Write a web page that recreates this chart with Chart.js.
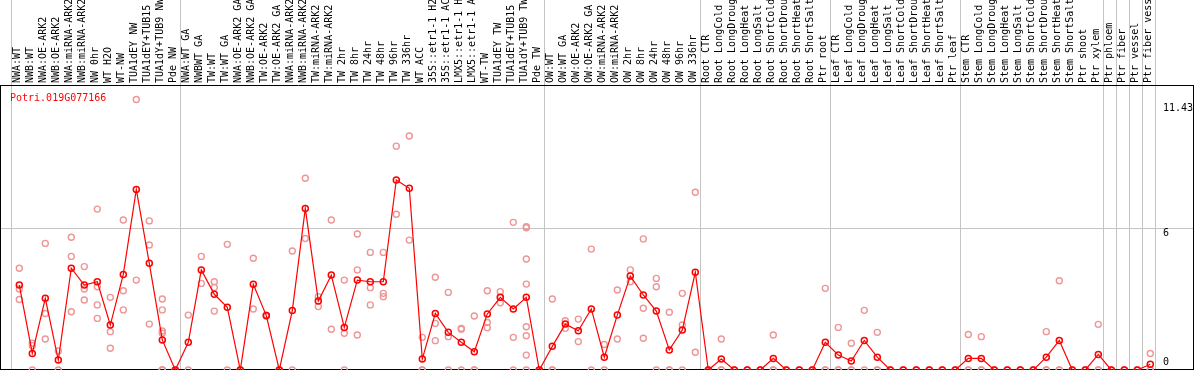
<!DOCTYPE html>
<html><head><meta charset="utf-8">
<script src="https://cdn.jsdelivr.net/npm/chart.js@4.4.1/dist/chart.umd.min.js"></script>
<style>html,body{margin:0;padding:0;background:#fff;overflow:hidden}canvas{display:block}</style>
</head><body>
<canvas id="c" width="1194" height="370"></canvas>
<script>
const geneId = "Potri.019G077166";

const categories = [
  "NWA:WT","NWB:WT","NWA:OE-ARK2","NWB:OE-ARK2","NWA:miRNA-ARK2","NWB:miRNA-ARK2","NW 0hr","WT H2O","WT-NW","TUA1dEY NW","TUA1dEY+TUB15","TUA1dY+TUB9 NW","Pde NW",
  "NWA:WT GA","NWBWT GA","TW:WT","TW:WT GA","NWA:OE-ARK2 GA","NWB:OE-ARK2 GA","TW:OE-ARK2","TW:OE-ARK2 GA","NWA:miRNA-ARK2","NWB:miRNA-ARK2","TW:miRNA-ARK2","TW:miRNA-ARK2","TW 2hr","TW 8hr","TW 24hr","TW 48hr","TW 96hr","TW 336hr","WT ACC","35S::etr1-1 H2","35S::etr1-1 AC","LMX5::etr1-1 H","LMX5::etr1-1 A","WT-TW","TUA1dEY TW","TUA1dEY+TUB15","TUA1dY+TUB9 TW","Pde TW",
  "OW:WT","OW:WT GA","OW:OE-ARK2","OW:OE-ARK2 GA","OW:miRNA-ARK2","OW:miRNA-ARK2","OW 2hr","OW 8hr","OW 24hr","OW 48hr","OW 96hr","OW 336hr",
  "Root CTR","Root LongCold","Root LongDroug","Root LongHeat","Root LongSalt","Root ShortCold","Root ShortDrou","Root ShortHeat","Root ShortSalt","Ptr root",
  "Leaf CTR","Leaf LongCold","Leaf LongDroug","Leaf LongHeat","Leaf LongSalt","Leaf ShortCold","Leaf ShortDrou","Leaf ShortHeat","Leaf ShortSalt","Ptr leaf",
  "Stem CTR","Stem LongCold","Stem LongDroug","Stem LongHeat","Stem LongSalt","Stem ShortCold","Stem ShortDrou","Stem ShortHeat","Stem ShortSalt","Ptr shoot","Ptr xylem","Ptr phloem","Ptr fiber","Ptr vessel","Ptr fiber vess"
];

const means = [
  3.59,0.70,3.03,0.42,4.30,3.59,3.73,1.90,4.04,7.63,4.51,1.27,0,
  1.17,4.23,3.20,2.65,0,3.62,2.30,0,2.51,6.83,2.92,4.01,1.80,3.80,3.73,3.73,8.03,7.68,0.46,2.39,1.59,1.17,0.77,2.37,3.07,2.58,3.07,0,
  1.00,1.94,1.66,2.58,0.54,2.32,3.97,3.17,2.49,0.85,1.69,4.13,
  0,0.46,0,0,0,0.49,0,0,0,1.17,
  0.63,0.38,1.25,0.54,0,0,0,0,0,0,
  0.49,0.49,0,0,0,0,0.54,1.25,0,0,0.66,0,0,0,0.24
];

const replicates = [
  [4.30,3.42,2.98],[1.13,1.03,0],[5.35,2.39,1.31],[0.80,0],[5.61,4.80,2.46],[4.37,3.42,2.96],[6.80,3.52,2.75,2.18],[3.07,1.62,0.92],[6.34,3.35,2.54],[11.43,3.80],[6.30,5.28,1.94],[3.00,2.54,1.65,1.55,0,0,0],[0,0],
  [2.32,0],[4.80,3.66],[3.73,3.49,2.49],[5.31,0],[0,0],[4.72,2.58],[2.32,2.27],[0,0],[5.03,0],[8.10,5.56],[3.10,2.68],[6.34,1.72],[3.80,1.55,0],[5.75,4.23,1.48],[4.97,3.48,2.75],[4.97,3.24,3.10],[9.46,6.58],[9.89,5.49],[1.38,0,0],[3.92,1.97,1.24],[3.28,1.41,0],[1.76,1.72,0],[2.28,0,0],[3.35,2.01,1.79],[3.31,3.07,2.84],[6.24,1.38,0],[6.06,6.01,4.69,3.63,1.83,1.45,0.63,0],[0,0],
  [3.00,0,0],[2.08,1.76],[2.15,1.20],[5.11,0],[1.08,0],[3.38,1.31],[4.23,3.73],[5.54,2.61,1.34],[3.87,3.52,0],[2.44,0,0],[3.24,1.90,0],[7.51,0.75],
  [0,0],[1.31,0,0],[0,0],[0,0],[0,0],[1.48,0,0],[0,0],[0,0],[0,0],[3.45,0,0],
  [1.80,0,0],[1.13,0,0],[2.52,0],[1.59,0,0],[0,0],[0,0],[0,0],[0,0],[0,0],[0,0],
  [1.50,0,0],[1.41,0,0],[0,0],[0,0],[0,0],[0,0],[1.62,0,0],[3.77,0,0],[0,0],[0,0],[1.93,0,0],[0,0],[0,0],[0,0],[0.70,0,0]
];

// last category index (1-based) of each group; separators drawn after these
const groupEnds = [0, 13, 41, 53, 63, 73, 84, 85, 86, 87, 88];
const yTickValues = [0, 6, 11.43];

// ---- layout / style constants ----
const AREA_LEFT = 1, AREA_RIGHT = 1193, FIRST_PX = 19.3, STEP = 13;
const xMin = 1 - (FIRST_PX - AREA_LEFT) / STEP;
const xMax = xMin + (AREA_RIGHT - AREA_LEFT) / STEP;
const yMax = Math.max(...yTickValues) * 1.05;
const FONT = '10px "DejaVu Sans Mono", "Liberation Mono", monospace';
const RED = '#ff0000', PALE = 'rgb(238,150,150)', GRID = '#c4c4c4';

const meanPoints = means.map((v, i) => ({x: i + 1, y: v}));
const repPoints = [];
replicates.forEach((arr, i) => arr.forEach(v => repPoints.push({x: i + 1, y: v})));

const decor = {
  id: 'decor',
  beforeDatasetsDraw(chart) {
    const {ctx, chartArea: a, scales: {x}} = chart;
    ctx.save();
    ctx.lineWidth = 1;
    ctx.strokeStyle = GRID;
    groupEnds.forEach(e => {
      const px = Math.round(x.getPixelForValue(e + 0.385)) + 0.5;
      ctx.beginPath(); ctx.moveTo(px, 0); ctx.lineTo(px, a.bottom); ctx.stroke();
    });
    ctx.strokeStyle = '#000';
    ctx.beginPath();
    ctx.moveTo(0, a.top - 0.5); ctx.lineTo(chart.width, a.top - 0.5);
    ctx.moveTo(0.5, a.top - 0.5); ctx.lineTo(0.5, a.bottom);
    ctx.moveTo(a.right + 0.5, a.top - 0.5); ctx.lineTo(a.right + 0.5, a.bottom);
    ctx.moveTo(0, a.bottom - 0.5); ctx.lineTo(chart.width, a.bottom - 0.5);
    ctx.stroke();
    // category labels
    ctx.fillStyle = '#000';
    ctx.font = FONT;
    ctx.textAlign = 'left';
    ctx.textBaseline = 'alphabetic';
    categories.forEach((c, i) => {
      const px = x.getPixelForValue(i + 1);
      ctx.save();
      ctx.translate(px + 1, a.top - 3);
      ctx.rotate(-Math.PI / 2);
      ctx.fillText(c, 0, 0);
      ctx.restore();
    });
    ctx.restore();
  },
  afterDatasetsDraw(chart) {
    const {ctx, chartArea: a, scales: {y}} = chart;
    ctx.save();
    ctx.font = FONT;
    ctx.textAlign = 'left';
    ctx.textBaseline = 'alphabetic';
    ctx.fillStyle = RED;
    ctx.fillText(geneId, a.left + 9, a.top + 15);
    ctx.fillStyle = '#000';
    yTickValues.forEach(v => {
      const py = y.getPixelForValue(v);
      const by = Math.min(Math.max(py + 8, a.top + 25), a.bottom - 5);
      ctx.fillText(String(v), 1163, by);
    });
    ctx.restore();
  }
};

new Chart(document.getElementById('c'), {
  type: 'scatter',
  data: {
    datasets: [
      {
        data: repPoints,
        showLine: false,
        pointRadius: 3,
        pointBorderWidth: 1.4,
        pointBorderColor: PALE,
        pointBackgroundColor: 'rgba(0,0,0,0)',
        clip: false,
        order: 2
      },
      {
        type: 'line',
        data: meanPoints,
        borderColor: RED,
        borderWidth: 1.2,
        pointRadius: 3,
        pointBorderWidth: 1.5,
        pointBorderColor: RED,
        pointBackgroundColor: 'rgba(0,0,0,0)',
        tension: 0,
        clip: false,
        order: 1
      }
    ]
  },
  options: {
    responsive: false,
    animation: false,
    events: [],
    devicePixelRatio: 1,
    layout: {autoPadding: false, padding: {left: AREA_LEFT, right: 0, top: 0, bottom: 0}},
    plugins: {legend: {display: false}, tooltip: {enabled: false}, title: {display: false}},
    scales: {
      x: {
        type: 'linear', position: 'top', min: xMin, max: xMax, bounds: 'data',
        ticks: {display: false}, grid: {display: false}, border: {display: false},
        afterFit(s) { s.height = 86; s.paddingLeft = 0; s.paddingRight = 0; s.paddingTop = 0; s.paddingBottom = 0; }
      },
      y: {
        type: 'linear', position: 'right', min: 0, max: yMax, bounds: 'data',
        afterBuildTicks(s) { s.ticks = yTickValues.map(v => ({value: v})); },
        ticks: {display: false},
        grid: {color: c => (c.tick && c.tick.value === 6 ? GRID : 'rgba(0,0,0,0)'), lineWidth: 1, drawTicks: false},
        border: {display: false},
        afterFit(s) { s.width = 1; s.paddingLeft = 0; s.paddingRight = 0; s.paddingTop = 0; s.paddingBottom = 0; }
      }
    }
  },
  plugins: [decor]
});
</script>
</body></html>
